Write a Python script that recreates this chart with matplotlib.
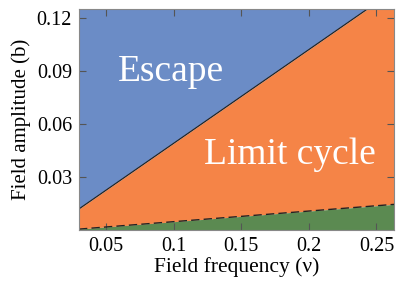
import matplotlib
matplotlib.use("Agg")
import matplotlib.pyplot as plt
import numpy as np

freq = [0.03, 0.263]
escape_boundary = [0.0119, 0.1354]
fixed_boundary = [0.0005, 0.0145]
xticks = [0.05, 0.1, 0.15, 0.2, 0.25]
xticklabels = ["0.05", "0.1", "0.15", "0.2", "0.25"]
yticks = [0.03, 0.06, 0.09, 0.12]
yticklabels = ["0.03", "0.06", "0.09", "0.12"]

plt.rcParams['font.family'] = ['Liberation Serif', 'DejaVu Serif']
plt.rcParams['mathtext.fontset'] = 'stix'

fig = plt.figure(figsize=(4.15, 2.86), dpi=100)
ax = fig.add_axes([79/415, 1-230/286, (394-79)/415, (230-9)/286])

blue = '#6b8cc6'
orange = '#f58447'
green = '#5b8a51'
ytop = 0.125
ax.fill_between(freq, escape_boundary, [1, 1], color=blue, lw=0)
ax.fill_between(freq, fixed_boundary, escape_boundary, color=orange, lw=0)
ax.fill_between(freq, [0, 0], fixed_boundary, color=green, lw=0)
ax.plot(freq, escape_boundary, color='#222222', lw=0.9)
ax.plot(freq, fixed_boundary, color='#222222', lw=1.0, ls=(0, (6, 3)))

ax.set_xlim(0.03, 0.263)
ax.set_ylim(0, ytop)
ax.set_xticks(xticks)
ax.set_xticklabels(xticklabels, family=['Liberation Serif'])
ax.set_yticks(yticks)
ax.set_yticklabels(yticklabels, family=['Liberation Serif'])
ax.tick_params(direction='in', length=5, width=0.8, color='#555555', labelsize=14.5,
               top=True, right=True, pad=5)
for s in ax.spines.values():
    s.set_color('#888888')
    s.set_linewidth(0.8)

ax.set_xlabel('Field frequency (ν)', fontsize=15.5, labelpad=1)
ax.set_ylabel('Field amplitude (b)', fontsize=15, labelpad=4)

ax.text(0.098, 0.0895, 'Escape', color='white', fontsize=27, ha='center', va='center')
ax.text(0.186, 0.0423, 'Limit cycle', color='white', fontsize=27, ha='center', va='center')

fig.savefig('out.png', dpi=100)
